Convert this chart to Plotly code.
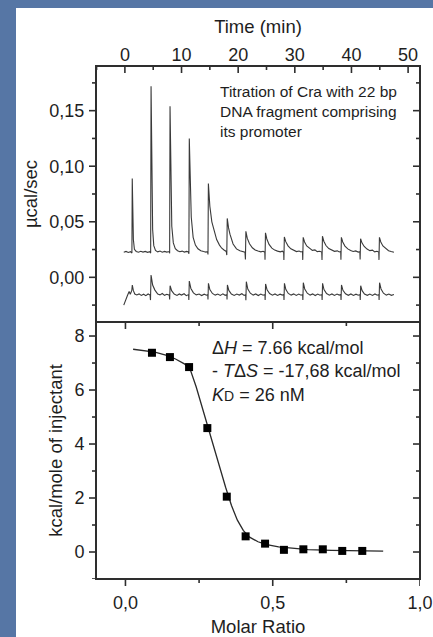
import plotly.graph_objects as go

# ---------------------------------------------------------------- data
# Raw ITC thermogram, digitised vertices (time in min, heat flow in µcal/sec)
cra_dna_trace = [
    (-0.20, 0.0226), (0.20, 0.0233), (0.60, 0.0224), (1.00, 0.0231),
    # injection 1
    (1.24, 0.0219), (1.30, 0.0889), (1.50, 0.0340), (1.68, 0.0252), (2.00, 0.0233),
    (2.40, 0.0226), (2.80, 0.0234), (3.20, 0.0227), (3.60, 0.0233), (4.00, 0.0225), (4.40, 0.0231),
    # injection 2
    (4.55, 0.0218), (4.62, 0.1720), (4.90, 0.0430), (5.10, 0.0285), (5.40, 0.0242),
    (5.80, 0.0229), (6.20, 0.0236), (6.60, 0.0226), (7.00, 0.0233), (7.40, 0.0227), (7.80, 0.0232),
    # injection 3
    (7.90, 0.0216), (7.97, 0.1540), (8.28, 0.0460), (8.55, 0.0310), (8.90, 0.0258),
    (9.30, 0.0239), (9.70, 0.0230), (10.10, 0.0236), (10.50, 0.0227), (10.90, 0.0233), (11.22, 0.0228),
    # injection 4
    (11.30, 0.0212), (11.37, 0.1250), (11.72, 0.0540), (12.05, 0.0360), (12.45, 0.0290),
    (12.90, 0.0257), (13.40, 0.0240), (13.90, 0.0232), (14.30, 0.0227), (14.60, 0.0231),
    # injection 5
    (14.67, 0.0205), (14.74, 0.0844), (15.00, 0.0640), (15.35, 0.0500), (15.80, 0.0400),
    (16.20, 0.0340), (16.70, 0.0290), (17.10, 0.0262), (17.50, 0.0246), (17.90, 0.0233),
    # injection 6
    (17.99, 0.0200), (18.07, 0.0530), (18.30, 0.0445), (18.55, 0.0388), (19.10, 0.0300),
    (19.70, 0.0256), (20.30, 0.0239), (20.80, 0.0231), (21.20, 0.0227),
    # injection 7
    (21.28, 0.0160), (21.36, 0.0414), (21.60, 0.0352), (22.00, 0.0302), (22.50, 0.0266),
    (23.00, 0.0246), (23.50, 0.0236), (24.00, 0.0229), (24.40, 0.0234), (24.70, 0.0226),
    # injection 8
    (24.74, 0.0158), (24.82, 0.0400), (25.06, 0.0345), (25.45, 0.0296), (25.95, 0.0263),
    (26.45, 0.0245), (26.95, 0.0236), (27.45, 0.0229), (27.80, 0.0235), (28.03, 0.0226),
    # injection 9
    (28.07, 0.0155), (28.15, 0.0363), (28.40, 0.0321), (28.80, 0.0283), (29.30, 0.0257),
    (29.80, 0.0242), (30.30, 0.0232), (30.75, 0.0237), (31.10, 0.0228), (31.36, 0.0232),
    # injection 10
    (31.40, 0.0157), (31.48, 0.0360), (31.72, 0.0318), (32.10, 0.0282), (32.60, 0.0258),
    (33.10, 0.0243), (33.55, 0.0247), (33.95, 0.0231), (34.40, 0.0235), (34.75, 0.0227),
    # injection 11
    (34.80, 0.0156), (34.88, 0.0370), (35.12, 0.0325), (35.50, 0.0286), (36.00, 0.0259),
    (36.50, 0.0243), (37.00, 0.0234), (37.50, 0.0238), (37.85, 0.0228), (38.10, 0.0232),
    # injection 12
    (38.14, 0.0158), (38.22, 0.0360), (38.46, 0.0318), (38.85, 0.0281), (39.35, 0.0256),
    (39.85, 0.0241), (40.30, 0.0233), (40.75, 0.0238), (41.20, 0.0227), (41.48, 0.0231),
    # injection 13
    (41.53, 0.0160), (41.61, 0.0348), (41.85, 0.0310), (42.25, 0.0278), (42.75, 0.0254),
    (43.25, 0.0240), (43.70, 0.0245), (44.10, 0.0229), (44.50, 0.0234), (44.82, 0.0227),
    # injection 14
    (44.86, 0.0157), (44.94, 0.0360), (45.18, 0.0318), (45.55, 0.0282), (46.05, 0.0257),
    (46.55, 0.0240), (47.00, 0.0233), (47.50, 0.0226),
]

# Control titration (DNA into buffer), same injection schedule
control_trace = [
    (-0.20, -0.0250), (0.15, -0.0195), (0.45, -0.0163), (0.75, -0.0128), (0.95, -0.0152),
    # injection 1
    (1.22, -0.0118), (1.31, -0.0069), (1.50, -0.0120), (1.75, -0.0150), (2.10, -0.0158),
    (2.50, -0.0149), (2.90, -0.0163), (3.30, -0.0152), (3.70, -0.0165), (4.10, -0.0150), (4.45, -0.0160),
    # injection 2
    (4.52, -0.0205), (4.62, 0.0021), (4.90, -0.0070), (5.30, -0.0115), (5.80, -0.0150),
    (6.20, -0.0158), (6.60, -0.0146), (7.00, -0.0162), (7.40, -0.0153), (7.85, -0.0160),
    # injection 3
    (7.90, -0.0200), (7.98, -0.0075), (8.25, -0.0120), (8.70, -0.0150), (9.20, -0.0163),
    (9.60, -0.0150), (10.00, -0.0160), (10.45, -0.0148), (10.85, -0.0165), (11.25, -0.0155),
    # injection 4
    (11.29, -0.0205), (11.37, -0.0033), (11.65, -0.0100), (12.10, -0.0140), (12.60, -0.0158),
    (13.10, -0.0150), (13.55, -0.0164), (14.00, -0.0152), (14.40, -0.0161), (14.63, -0.0156),
    # injection 5
    (14.67, -0.0200), (14.75, -0.0054), (15.00, -0.0110), (15.45, -0.0145), (15.95, -0.0160),
    (16.40, -0.0150), (16.85, -0.0163), (17.30, -0.0149), (17.70, -0.0162), (18.00, -0.0156),
    # injection 6
    (18.03, -0.0200), (18.10, -0.0069), (18.35, -0.0118), (18.80, -0.0150), (19.30, -0.0163),
    (19.75, -0.0151), (20.20, -0.0160), (20.65, -0.0148), (21.05, -0.0163), (21.32, -0.0156),
    # injection 7
    (21.36, -0.0206), (21.44, -0.0039), (21.70, -0.0105), (22.15, -0.0143), (22.65, -0.0160),
    (23.10, -0.0150), (23.55, -0.0164), (24.00, -0.0151), (24.40, -0.0161), (24.72, -0.0155),
    # injection 8
    (24.76, -0.0204), (24.84, -0.0060), (25.10, -0.0112), (25.55, -0.0146), (26.05, -0.0161),
    (26.50, -0.0150), (26.95, -0.0163), (27.40, -0.0152), (27.80, -0.0160), (28.05, -0.0155),
    # injection 9
    (28.09, -0.0203), (28.17, -0.0054), (28.42, -0.0110), (28.85, -0.0145), (29.35, -0.0160),
    (29.80, -0.0149), (30.25, -0.0163), (30.70, -0.0151), (31.10, -0.0161), (31.38, -0.0155),
    # injection 10
    (31.42, -0.0205), (31.50, -0.0048), (31.75, -0.0105), (32.20, -0.0143), (32.70, -0.0160),
    (33.15, -0.0149), (33.60, -0.0164), (34.05, -0.0151), (34.45, -0.0161), (34.78, -0.0155),
    # injection 11
    (34.82, -0.0203), (34.90, -0.0054), (35.15, -0.0110), (35.60, -0.0146), (36.10, -0.0161),
    (36.55, -0.0150), (37.00, -0.0163), (37.45, -0.0151), (37.85, -0.0160), (38.12, -0.0155),
    # injection 12
    (38.16, -0.0204), (38.24, -0.0069), (38.50, -0.0117), (38.95, -0.0148), (39.45, -0.0162),
    (39.90, -0.0150), (40.35, -0.0163), (40.80, -0.0152), (41.20, -0.0161), (41.51, -0.0155),
    # injection 13
    (41.55, -0.0203), (41.63, -0.0075), (41.88, -0.0120), (42.30, -0.0150), (42.80, -0.0162),
    (43.25, -0.0151), (43.70, -0.0163), (44.15, -0.0150), (44.55, -0.0161), (44.84, -0.0155),
    # injection 14
    (44.88, -0.0204), (44.96, -0.0048), (45.22, -0.0105), (45.65, -0.0143), (46.15, -0.0160),
    (46.60, -0.0150), (47.05, -0.0162), (47.50, -0.0155),
]

# Integrated heats per injection
molar_ratio = [0.090, 0.151, 0.216, 0.278, 0.344, 0.408, 0.474, 0.538, 0.604, 0.670, 0.736, 0.804]
heat_kcal = [7.38, 7.22, 6.85, 4.59, 2.05, 0.58, 0.31, 0.08, 0.10, 0.10, 0.04, 0.04]

# One-site binding fit curve
fit_ratio = [0.026, 0.06, 0.10, 0.14, 0.17, 0.20, 0.22, 0.24, 0.26, 0.28, 0.30, 0.32, 0.34,
             0.36, 0.38, 0.40, 0.42, 0.45, 0.48, 0.52, 0.56, 0.62, 0.70, 0.80, 0.875]
fit_kcal = [7.51, 7.47, 7.40, 7.28, 7.15, 6.97, 6.76, 6.12, 5.36, 4.60, 3.86, 3.12, 2.40,
            1.72, 1.18, 0.80, 0.56, 0.38, 0.27, 0.19, 0.14, 0.09, 0.06, 0.04, 0.03]

# Axis ticks
time_ticks = [0, 10, 20, 30, 40, 50]
time_minor = [-5, 5, 15, 25, 35, 45]
rate_ticks = [0.0, 0.05, 0.10, 0.15]
rate_labels = ["0,00", "0,05", "0,10", "0,15"]
rate_minor = [-0.025, 0.025, 0.075, 0.125, 0.175]
ratio_ticks = [0.0, 0.5, 1.0]
ratio_labels = ["0,0", "0,5", "1,0"]
ratio_minor = [0.25, 0.75]
heat_ticks = [0, 2, 4, 6, 8]
heat_minor = [-1, 1, 3, 5, 7]

# ---------------------------------------------------------------- style
FONT = "Liberation Sans, Arial, sans-serif"
INK = "#1e1e1e"
FRAME = "#2e2e2e"
SLIDE_BLUE = "#5676a5"
LW = 2
TW = 1.6
MAJOR, MINOR = 7, 4

X_TIME = [-5.1, 52.1]
X_RATIO = [-0.1, 1.0]
Y_RATE = [-0.0402, 0.1902]
Y_HEAT = [-1.0, 8.52]
SPLIT = 0.501

t_cra, q_cra = zip(*cra_dna_trace)
t_ctl, q_ctl = zip(*control_trace)

fig = go.Figure()
fig.add_trace(go.Scatter(x=t_cra, y=q_cra, mode="lines", xaxis="x", yaxis="y",
                         line=dict(color="#3a3a3a", width=1.1), showlegend=False))
fig.add_trace(go.Scatter(x=t_ctl, y=q_ctl, mode="lines", xaxis="x", yaxis="y",
                         line=dict(color="#3a3a3a", width=1.1), showlegend=False))
fig.add_trace(go.Scatter(x=fit_ratio, y=fit_kcal, mode="lines", xaxis="x2", yaxis="y2",
                         line=dict(color="#2a2a2a", width=1.3), showlegend=False))
fig.add_trace(go.Scatter(x=molar_ratio, y=heat_kcal, mode="markers", xaxis="x2", yaxis="y2",
                         marker=dict(symbol="square", size=8, color="#000000"), showlegend=False))


def axis(rng, ticks, side, inside, labels=None, **kw):
    # labelled axis; the visible frame and tick marks are drawn as shapes below
    d = dict(range=rng, tickmode="array", tickvals=ticks, side=side,
             ticks="inside" if inside else "outside", ticklen=MAJOR, tickcolor="rgba(0,0,0,0)",
             showline=False, showgrid=False, zeroline=False,
             tickfont=dict(family=FONT, size=18, color=INK), automargin=False, fixedrange=True)
    if labels is not None:
        d["ticktext"] = labels
    d.update(kw)
    return d


def x_marks(xref, ydom, values, length, top, inward):
    """Tick marks along the top or bottom edge of a panel, length in pixels."""
    sign = (-1 if inward else 1) if top else (1 if inward else -1)
    return [dict(type="line", xref=xref, x0=v, x1=v, yref=ydom, ysizemode="pixel",
                 yanchor=1 if top else 0, y0=0, y1=sign * length,
                 line=dict(color=FRAME, width=TW), layer="above") for v in values]


def y_marks(xdom, yref, values, length, right, inward):
    """Tick marks along the left or right edge of a panel, length in pixels."""
    sign = (-1 if inward else 1) if right else (1 if inward else -1)
    return [dict(type="line", yref=yref, y0=v, y1=v, xref=xdom, xsizemode="pixel",
                 xanchor=1 if right else 0, x0=0, x1=sign * length,
                 line=dict(color=FRAME, width=TW), layer="above") for v in values]


def frame(xdom, ydom):
    return dict(type="rect", xref=xdom, yref=ydom, x0=0, x1=1, y0=0, y1=1,
                line=dict(color=FRAME, width=LW), fillcolor="rgba(0,0,0,0)", layer="above")


title_font = dict(family=FONT, size=18.5, color=INK)

# slide backdrop: blue strips along the left and top edges of the page
W, H = 433, 637
ML, MR, MT, MB = 96, 13, 66, 58
PW, PH = W - ML - MR, H - MT - MB


def px_x(p):
    return (p - ML) / PW


def px_y(p):
    return (H - MB - p) / PH


shapes = [
    dict(type="rect", xref="paper", yref="paper", x0=px_x(-2), x1=px_x(16),
         y0=px_y(H + 2), y1=px_y(-2), fillcolor=SLIDE_BLUE, line=dict(width=0), layer="above"),
    dict(type="rect", xref="paper", yref="paper", x0=px_x(-2), x1=px_x(W + 2),
         y0=px_y(8), y1=px_y(-2), fillcolor=SLIDE_BLUE, line=dict(width=0), layer="above"),
    frame("x domain", "y domain"),
    frame("x2 domain", "y2 domain"),
]
# top panel: inward ticks on top and right, outward on the left
shapes += x_marks("x", "y domain", time_ticks, MAJOR, top=True, inward=True)
shapes += x_marks("x", "y domain", time_minor, MINOR, top=True, inward=True)
shapes += y_marks("x domain", "y", rate_ticks, MAJOR, right=False, inward=False)
shapes += y_marks("x domain", "y", rate_minor, MINOR, right=False, inward=False)
shapes += y_marks("x domain", "y", rate_ticks, MAJOR, right=True, inward=True)
shapes += y_marks("x domain", "y", rate_minor, MINOR, right=True, inward=True)
# bottom panel: outward ticks bottom/left, inward ticks top/right
shapes += x_marks("x2", "y2 domain", ratio_ticks, MAJOR, top=False, inward=False)
shapes += x_marks("x2", "y2 domain", ratio_minor, MINOR, top=False, inward=False)
shapes += x_marks("x2", "y2 domain", ratio_ticks, MAJOR, top=True, inward=True)
shapes += x_marks("x2", "y2 domain", ratio_minor, MINOR, top=True, inward=True)
shapes += y_marks("x2 domain", "y2", heat_ticks, MAJOR, right=False, inward=False)
shapes += y_marks("x2 domain", "y2", heat_minor, MINOR, right=False, inward=False)
shapes += y_marks("x2 domain", "y2", heat_ticks, MAJOR, right=True, inward=True)
shapes += y_marks("x2 domain", "y2", heat_minor, MINOR, right=True, inward=True)

fig.update_layout(
    template="none",
    width=W, height=H, autosize=False,
    margin=dict(l=ML, r=MR, t=MT, b=MB, autoexpand=False),
    paper_bgcolor="#ffffff", plot_bgcolor="#ffffff",
    # top panel: raw heat flow vs time
    xaxis=axis(X_TIME, time_ticks, "top", True, anchor="y",
               title=dict(text="Time (min)", font=title_font, standoff=6)),
    yaxis=axis(Y_RATE, rate_ticks, "left", False, labels=rate_labels,
               anchor="x", domain=[SPLIT, 1],
               title=dict(text="µcal/sec", font=title_font, standoff=6)),
    # bottom panel: integrated heats vs molar ratio
    xaxis2=axis(X_RATIO, ratio_ticks, "bottom", False, labels=ratio_labels,
                anchor="y2", title=dict(text="Molar Ratio", font=title_font, standoff=8)),
    yaxis2=axis(Y_HEAT, heat_ticks, "left", False, anchor="x2", domain=[0, SPLIT],
                title=dict(text="kcal/mole of injectant", font=title_font, standoff=6)),
    shapes=shapes,
    annotations=[
        dict(xref="x domain", yref="y domain", x=0.378, y=0.94, xanchor="left", yanchor="top",
             align="left", showarrow=False, font=dict(family=FONT, size=15.5, color=INK),
             text="Titration of Cra with 22 bp<br>DNA fragment comprising<br>its promoter"),
        dict(xref="x2 domain", yref="y2 domain", x=0.352, y=0.945, xanchor="left", yanchor="top",
             align="left", showarrow=False, font=dict(family=FONT, size=18, color=INK),
             text="Δ<i>H</i> = 7.66 kcal/mol<br>- <i>T</i>Δ<i>S</i> = -17,68 kcal/mol<br>"
                  "<i>K</i><span style='font-size:14px'>D</span> = 26 nM"),
    ],
)

fig.write_html("out.html")
